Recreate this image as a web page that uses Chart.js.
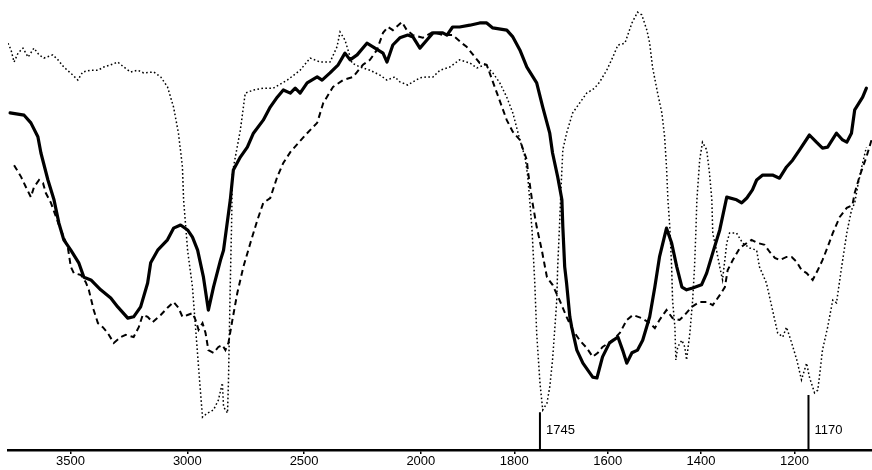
<!DOCTYPE html>
<html>
<head>
<meta charset="utf-8">
<script src="https://cdn.jsdelivr.net/npm/chart.js@4/dist/chart.umd.min.js"></script>
<style>
html,body{margin:0;padding:0;background:#fff;}
#wrap{width:872px;height:470px;}
</style>
</head>
<body>
<div id="wrap"><canvas id="c" width="872" height="470"></canvas></div>
<script>
// wavenumbers (cm-1) and transmittance (%)
const solidWn = [3759,3699,3670,3640,3627,3597,3571,3550,3529,3499,3465,3443,3413,3371,3328,3298,3255,3230,3200,3170,3157,3127,3085,3059,3029,2999,2978,2956,2931,2910,2888,2858,2845,2816,2803,2773,2743,2717,2675,2645,2615,2589,2559,2538,2517,2487,2444,2423,2389,2354,2325,2303,2273,2231,2205,2162,2145,2120,2090,2056,2034,2004,1987,1974,1953,1944,1932,1917,1895,1874,1859,1846,1816,1803,1788,1773,1752,1739,1724,1718,1707,1698,1696,1692,1688,1681,1677,1666,1653,1632,1623,1611,1596,1578,1568,1559,1548,1536,1525,1510,1499,1489,1474,1463,1452,1441,1431,1418,1399,1388,1375,1360,1345,1324,1313,1302,1290,1281,1268,1247,1232,1217,1204,1189,1168,1153,1140,1129,1110,1097,1088,1078,1071,1054,1046];
const solidT = [74.9,74.4,72.7,69.6,66.0,60.0,55.6,50.4,46.7,44.4,41.6,38.4,37.8,35.6,33.8,31.8,29.3,29.6,31.8,37.1,41.6,44.4,46.7,49.3,50.0,48.9,47.3,44.4,38.4,31.1,36.2,42.2,44.4,55.6,62.2,65.1,67.3,70.4,73.3,76.2,78.4,80.0,79.3,80.4,79.3,81.6,82.9,82.2,83.8,85.6,88.2,86.7,87.8,90.4,89.6,88.2,86.2,90.0,91.6,92.2,91.8,89.3,91.1,92.7,92.7,92.2,94.0,94.0,94.4,94.9,94.9,93.8,93.3,91.8,88.9,85.1,81.6,76.2,70.4,66.0,60.7,55.6,49.6,40.7,37.1,29.6,27.3,22.2,19.3,16.2,16.0,20.7,23.8,25.1,22.2,19.3,21.6,22.2,24.4,29.6,36.2,42.9,49.3,46.0,40.7,36.2,35.6,36.0,36.7,39.3,43.8,48.9,56.2,55.6,54.9,56.0,57.8,60.0,61.1,61.1,60.4,62.9,64.4,66.7,70.0,68.4,67.1,67.3,70.4,68.9,68.4,70.4,75.6,78.4,80.4];

const dashWn = [3742,3712,3691,3670,3657,3635,3618,3606,3584,3550,3512,3499,3486,3456,3435,3422,3401,3383,3362,3341,3315,3285,3264,3230,3208,3191,3170,3149,3114,3085,3059,3038,3021,2999,2978,2965,2952,2935,2922,2910,2888,2867,2850,2837,2824,2807,2786,2760,2730,2700,2675,2645,2615,2589,2559,2525,2487,2444,2418,2376,2333,2290,2248,2218,2188,2162,2141,2120,2081,2060,2034,1996,1974,1953,1932,1912,1902,1874,1859,1837,1816,1803,1788,1773,1771,1762,1752,1741,1730,1718,1703,1688,1675,1660,1645,1632,1621,1611,1589,1574,1559,1546,1527,1510,1499,1489,1474,1461,1446,1435,1420,1403,1388,1375,1360,1349,1343,1332,1317,1302,1292,1279,1264,1253,1242,1232,1217,1206,1195,1185,1174,1161,1150,1140,1129,1118,1103,1088,1076,1071,1061,1046,1035];
const dashT = [63.3,60.7,58.4,56.2,58.4,60.0,59.3,57.1,54.9,50.0,45.1,40.7,39.3,38.9,37.3,35.6,31.1,28.2,27.3,26.0,23.8,25.1,25.6,25.1,27.3,30.0,29.6,28.4,30.0,31.6,32.9,31.6,29.6,30.0,30.4,28.9,26.7,28.2,26.0,22.2,21.6,22.9,23.3,22.2,23.8,28.9,34.9,40.7,46.0,51.1,54.9,56.0,60.7,63.8,66.2,68.2,70.4,72.7,77.1,80.7,82.2,82.9,85.6,86.7,88.9,92.7,94.0,93.3,95.1,93.3,92.2,91.6,92.9,92.2,92.2,90.4,89.6,86.0,85.6,79.3,73.3,70.7,68.9,64.4,62.2,55.6,49.6,44.4,38.4,36.7,33.3,29.6,26.7,24.4,22.7,20.7,21.6,22.9,24.4,26.0,28.9,30.0,29.3,28.2,27.1,28.9,31.1,29.3,28.9,30.0,31.8,32.9,32.9,32.2,34.4,36.2,40.0,42.2,44.9,46.0,46.7,46.0,45.6,44.0,42.7,42.2,42.9,42.9,41.8,40.0,39.3,37.8,40.0,42.2,45.1,48.2,51.8,53.8,54.4,57.1,60.7,65.1,68.9];

const dotWn = [3768,3755,3742,3725,3704,3682,3657,3635,3614,3576,3554,3529,3490,3469,3448,3413,3383,3358,3328,3298,3272,3243,3213,3187,3144,3114,3085,3059,3038,3021,3016,3008,2999,2978,2965,2952,2935,2914,2888,2867,2850,2845,2828,2824,2820,2816,2811,2807,2773,2752,2717,2675,2632,2572,2517,2474,2431,2389,2359,2346,2325,2295,2260,2218,2175,2145,2111,2090,2056,2034,2004,1987,1974,1959,1938,1917,1895,1880,1863,1846,1831,1816,1803,1788,1777,1771,1767,1762,1756,1752,1745,1739,1730,1724,1718,1713,1709,1707,1703,1700,1696,1688,1675,1660,1645,1634,1628,1617,1602,1589,1578,1563,1557,1548,1536,1527,1516,1510,1504,1493,1484,1478,1474,1471,1467,1463,1461,1456,1454,1450,1441,1435,1431,1424,1418,1414,1411,1409,1403,1397,1388,1382,1377,1375,1367,1360,1354,1345,1339,1324,1311,1296,1281,1275,1260,1247,1236,1225,1217,1206,1195,1185,1174,1168,1157,1150,1140,1129,1118,1110,1099,1088,1078,1071,1065,1056,1046];
const dotT = [90.4,88.9,86.2,88.2,89.3,87.3,89.3,87.8,87.1,87.8,86.7,85.1,83.3,82.2,84.0,84.4,84.4,85.1,85.6,86.2,85.1,84.0,84.4,83.8,84.0,82.9,80.7,76.2,70.4,62.9,55.6,50.4,44.4,36.2,27.3,18.4,7.3,8.2,8.9,11.1,14.9,9.6,8.2,14.9,26.0,37.1,48.9,61.6,71.1,79.3,80.0,80.4,80.4,82.2,84.4,87.1,86.2,86.2,89.6,92.9,91.1,86.0,85.1,84.4,83.3,82.2,82.9,81.8,81.1,81.8,82.7,82.9,82.9,84.4,85.1,86.7,86.0,84.9,85.6,83.8,81.6,78.4,74.9,68.9,65.1,60.7,55.6,48.9,37.1,26.0,14.9,8.9,10.4,14.0,20.0,27.3,33.3,40.7,50.0,57.8,66.7,70.4,74.9,77.1,79.3,80.0,80.4,81.8,84.4,87.3,90.0,90.4,92.2,94.9,97.3,96.7,93.3,90.4,85.1,79.3,74.9,69.6,62.9,55.6,49.6,40.7,33.3,27.3,20.0,22.9,24.4,22.9,20.0,26.0,33.3,40.7,48.9,55.6,64.4,68.4,66.7,61.6,55.6,48.2,44.4,40.7,37.8,46.0,48.2,48.2,46.0,44.9,44.4,40.7,37.1,31.1,26.0,25.1,27.3,23.8,20.0,15.6,19.3,16.2,12.7,13.3,22.2,27.3,33.3,32.7,40.7,48.2,53.3,54.9,58.4,62.9,67.3];

const tickWn = [3500,3000,2500,2000,1800,1600,1400,1200];
const markerWn = [1745,1170];
const markerLabels = ['1745','1170'];
const markerTopT = [8.4,12.2];

// IR chart convention: scale is compressed 2:1 above 2000 cm-1
function compress(wn){ return wn >= 2000 ? 2000 + (wn - 2000) / 2 : wn; }
function expand(u){ return u >= 2000 ? 2000 + (u - 2000) * 2 : u; }
function pts(wn, t){ const n = Math.min(wn.length, t.length); const a = []; for (let i = 0; i < n; i++) a.push({x: compress(wn[i]), y: t[i]}); return a; }

const markerSets = markerWn.map((w, i) => ({
  data: [{x: compress(w), y: markerTopT[i]}, {x: compress(w), y: 0}],
  borderColor: '#000', borderWidth: 2, pointRadius: 0, fill: false
}));

const markerText = {
  id: 'markerText',
  afterDatasetsDraw(chart){
    const ctx = chart.ctx, xs = chart.scales.x, ys = chart.scales.y;
    ctx.save();
    ctx.fillStyle = '#000';
    ctx.font = '13px "Liberation Sans", Arial, sans-serif';
    ctx.textBaseline = 'middle';
    ctx.textAlign = 'left';
    markerWn.forEach((w, i) => {
      ctx.fillText(markerLabels[i], xs.getPixelForValue(compress(w)) + 6, ys.getPixelForValue(4.4));
    });
    ctx.restore();
  }
};

new Chart(document.getElementById('c'), {
  type: 'line',
  data: {
    datasets: [
      {data: pts(solidWn, solidT), borderColor: '#000', borderWidth: 3.2, pointRadius: 0, tension: 0, fill: false, borderJoinStyle: 'round', borderCapStyle: 'round'},
      {data: pts(dashWn, dashT), borderColor: '#000', borderWidth: 2, borderDash: [6, 4], pointRadius: 0, tension: 0, fill: false},
      {data: pts(dotWn, dotT), borderColor: '#000', borderWidth: 1.5, borderDash: [1.6, 2.4], pointRadius: 0, tension: 0, fill: false},
      ...markerSets
    ]
  },
  options: {
    responsive: false,
    animation: false,
    events: [],
    layout: {padding: {left: 8, right: 0, top: 0, bottom: 0}},
    plugins: {legend: {display: false}, tooltip: {enabled: false}, title: {display: false}},
    scales: {
      x: {
        type: 'linear',
        reverse: true,
        min: compress(1034),
        max: compress(3768),
        afterBuildTicks(scale){ scale.ticks = tickWn.map(w => ({value: compress(w)})); },
        afterFit(scale){ scale.height = 20; },
        ticks: {
          autoSkip: false, maxRotation: 0, padding: 1,
          color: '#000',
          font: {family: '"Liberation Sans", Arial, sans-serif', size: 13, weight: 'normal', lineHeight: 1},
          callback: (v) => String(Math.round(expand(v)))
        },
        grid: {display: true, drawOnChartArea: false, drawTicks: true, tickLength: 4, color: '#000', lineWidth: 1.5},
        border: {display: true, color: '#000', width: 2.5}
      },
      y: {type: 'linear', display: false, min: 0, max: 100}
    }
  },
  plugins: [markerText]
});
</script>
</body>
</html>
